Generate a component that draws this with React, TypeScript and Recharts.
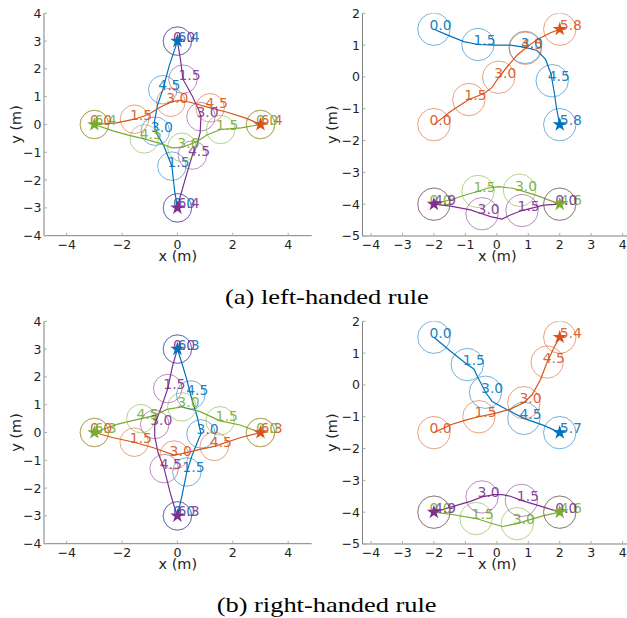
import React from 'react';
import { ScatterChart, Scatter, XAxis, YAxis, ZAxis } from 'recharts';

/* ============================
   Colours / constants
============================ */

const BLUE = '#0072BD';
const ORANGE = '#D95319';
const GREEN = '#77AC30';
const PURPLE = '#7E2F8E';

const ROBOT_RADIUS = 0.515; // m, drawn as the circles
const CAPTIONS = ['(a) left-handed rule', '(b) right-handed rule'];

type Pt = { x: number; y: number };
type Mark = { x: number; y: number; t: string; end?: boolean };

/* ============================
   (a) left-handed, cross
============================ */

const aBluePath: Pt[] = [
    { x: 0, y: -3 }, { x: -0.1, y: -2.4 }, { x: -0.2, y: -1.5 }, { x: -0.5, y: -0.75 },
    { x: -0.8, y: -0.24 }, { x: -0.83, y: 0.1 }, { x: -0.72, y: 0.7 }, { x: -0.53, y: 1.25 },
    { x: -0.3, y: 2.1 }, { x: 0, y: 3 },
];
const aBlueMarks: Mark[] = [
    { x: 0, y: -3, t: '0.0' }, { x: -0.2, y: -1.5, t: '1.5' }, { x: -0.8, y: -0.24, t: '3.0' },
    { x: -0.53, y: 1.25, t: '4.5' }, { x: 0, y: 3, t: '6.4', end: true },
];
const aPurplePath: Pt[] = [
    { x: 0, y: 3 }, { x: 0.1, y: 2.4 }, { x: 0.2, y: 1.63 }, { x: 0.55, y: 1.0 },
    { x: 0.78, y: 0.5 }, { x: 0.85, y: 0.28 }, { x: 0.82, y: -0.3 }, { x: 0.7, y: -0.75 },
    { x: 0.54, y: -1.1 }, { x: 0.3, y: -1.9 }, { x: 0.1, y: -2.6 }, { x: 0, y: -3 },
];
const aPurpleMarks: Mark[] = [
    { x: 0, y: 3, t: '0.0' }, { x: 0.2, y: 1.63, t: '1.5' }, { x: 0.85, y: 0.28, t: '3.0' },
    { x: 0.54, y: -1.1, t: '4.5' }, { x: 0, y: -3, t: '6.4', end: true },
];
const aOrangePath: Pt[] = [
    { x: -3, y: 0 }, { x: -2.2, y: 0.06 }, { x: -1.55, y: 0.19 }, { x: -1.05, y: 0.36 },
    { x: -0.63, y: 0.62 }, { x: -0.24, y: 0.8 }, { x: 0.05, y: 0.87 }, { x: 0.46, y: 0.8 },
    { x: 1.18, y: 0.6 }, { x: 1.8, y: 0.44 }, { x: 2.5, y: 0.22 }, { x: 3, y: 0 },
];
const aOrangeMarks: Mark[] = [
    { x: -3, y: 0, t: '0.0' }, { x: -1.55, y: 0.19, t: '1.5' }, { x: -0.24, y: 0.8, t: '3.0' },
    { x: 1.18, y: 0.6, t: '4.5' }, { x: 3, y: 0, t: '6.4', end: true },
];
const aGreenPath: Pt[] = [
    { x: 3, y: 0 }, { x: 2.3, y: -0.12 }, { x: 1.56, y: -0.18 }, { x: 1.06, y: -0.38 },
    { x: 0.7, y: -0.62 }, { x: 0.16, y: -0.82 }, { x: -0.2, y: -0.84 }, { x: -0.63, y: -0.68 },
    { x: -1.2, y: -0.52 }, { x: -1.7, y: -0.4 }, { x: -2.3, y: -0.24 }, { x: -3, y: 0 },
];
const aGreenMarks: Mark[] = [
    { x: 3, y: 0, t: '0.0' }, { x: 1.56, y: -0.18, t: '1.5' }, { x: 0.16, y: -0.82, t: '3.0' },
    { x: -1.2, y: -0.52, t: '4.5' }, { x: -3, y: 0, t: '6.4', end: true },
];

/* ============================
   (a) left-handed, swap
============================ */

const bBluePath: Pt[] = [
    { x: -2, y: 1.5 }, { x: -1.6, y: 1.33 }, { x: -1.05, y: 1.11 }, { x: -0.6, y: 1.02 },
    { x: -0.1, y: 1.0 }, { x: 0.43, y: 1.0 }, { x: 0.9, y: 0.93 }, { x: 1.28, y: 0.83 },
    { x: 1.55, y: 0.55 }, { x: 1.72, y: 0.1 }, { x: 1.76, y: -0.12 }, { x: 1.82, y: -0.45 },
    { x: 1.9, y: -1.0 }, { x: 2, y: -1.5 },
];
const bBlueMarks: Mark[] = [
    { x: -2, y: 1.5, t: '0.0' }, { x: -0.6, y: 1.02, t: '1.5' }, { x: 0.9, y: 0.93, t: '3.0' },
    { x: 1.76, y: -0.12, t: '4.5' }, { x: 2, y: -1.5, t: '5.8', end: true },
];
const bOrangePath: Pt[] = [
    { x: -2, y: -1.5 }, { x: -1.47, y: -1.09 }, { x: -0.89, y: -0.71 }, { x: -0.41, y: -0.52 },
    { x: -0.15, y: -0.33 }, { x: 0.06, y: -0.01 }, { x: 0.33, y: 0.32 }, { x: 0.65, y: 0.69 },
    { x: 0.91, y: 0.9 }, { x: 1.28, y: 1.18 }, { x: 1.71, y: 1.39 }, { x: 2, y: 1.5 },
];
const bOrangeMarks: Mark[] = [
    { x: -2, y: -1.5, t: '0.0' }, { x: -0.89, y: -0.71, t: '1.5' }, { x: 0.06, y: -0.01, t: '3.0' },
    { x: 0.91, y: 0.9, t: '4.5' }, { x: 2, y: 1.5, t: '5.8', end: true },
];
const bGreenPath: Pt[] = [
    { x: -2, y: -4 }, { x: -1.47, y: -3.86 }, { x: -0.9, y: -3.68 }, { x: -0.6, y: -3.6 },
    { x: -0.31, y: -3.5 }, { x: 0.06, y: -3.45 }, { x: 0.5, y: -3.5 }, { x: 0.72, y: -3.56 },
    { x: 1.28, y: -3.73 }, { x: 2, y: -4 },
];
const bGreenMarks: Mark[] = [
    { x: -2, y: -4, t: '0.0' }, { x: -0.6, y: -3.6, t: '1.5' }, { x: 0.72, y: -3.56, t: '3.0' },
    { x: 2, y: -4, t: '4.6', end: true },
];
const bPurplePath: Pt[] = [
    { x: 2, y: -4 }, { x: 1.49, y: -4.03 }, { x: 0.8, y: -4.2 }, { x: 0.43, y: -4.34 },
    { x: 0.17, y: -4.47 }, { x: -0.2, y: -4.39 }, { x: -0.47, y: -4.3 }, { x: -0.84, y: -4.18 },
    { x: -1.47, y: -4.06 }, { x: -2, y: -4 },
];
const bPurpleMarks: Mark[] = [
    { x: 2, y: -4, t: '0.0' }, { x: 0.8, y: -4.2, t: '1.5' }, { x: -0.47, y: -4.3, t: '3.0' },
    { x: -2, y: -4, t: '4.9', end: true },
];

/* ============================
   (b) right-handed, cross
============================ */

const cBluePath: Pt[] = [
    { x: 0, y: -3 }, { x: 0.16, y: -2.29 }, { x: 0.34, y: -1.42 }, { x: 0.52, y: -0.85 },
    { x: 0.76, y: -0.25 }, { x: 0.85, y: -0.05 }, { x: 0.72, y: 0.55 }, { x: 0.48, y: 1.35 },
    { x: 0.34, y: 1.9 }, { x: 0.16, y: 2.5 }, { x: 0, y: 3 },
];
const cBlueMarks: Mark[] = [
    { x: 0, y: -3, t: '0.0' }, { x: 0.34, y: -1.42, t: '1.5' }, { x: 0.85, y: -0.05, t: '3.0' },
    { x: 0.48, y: 1.35, t: '4.5' }, { x: 0, y: 3, t: '6.3', end: true },
];
const cPurplePath: Pt[] = [
    { x: 0, y: 3 }, { x: -0.18, y: 2.38 }, { x: -0.35, y: 1.58 }, { x: -0.55, y: 1.0 },
    { x: -0.82, y: 0.29 }, { x: -0.82, y: -0.13 }, { x: -0.7, y: -0.73 }, { x: -0.48, y: -1.3 },
    { x: -0.26, y: -2.17 }, { x: -0.08, y: -2.77 }, { x: 0, y: -3 },
];
const cPurpleMarks: Mark[] = [
    { x: 0, y: 3, t: '0.0' }, { x: -0.35, y: 1.58, t: '1.5' }, { x: -0.82, y: 0.29, t: '3.0' },
    { x: -0.48, y: -1.3, t: '4.5' }, { x: 0, y: -3, t: '6.3', end: true },
];
const cGreenPath: Pt[] = [
    { x: 3, y: 0 }, { x: 2.26, y: 0.27 }, { x: 1.54, y: 0.42 }, { x: 0.82, y: 0.75 },
    { x: 0.16, y: 0.92 }, { x: -0.38, y: 0.83 }, { x: -0.87, y: 0.6 }, { x: -1.32, y: 0.5 },
    { x: -2.19, y: 0.29 }, { x: -3, y: 0 },
];
const cGreenMarks: Mark[] = [
    { x: 3, y: 0, t: '0.0' }, { x: 1.54, y: 0.42, t: '1.5' }, { x: 0.16, y: 0.92, t: '3.0' },
    { x: -1.32, y: 0.5, t: '4.5' }, { x: -3, y: 0, t: '6.3', end: true },
];
const cOrangePath: Pt[] = [
    { x: -3, y: 0 }, { x: -2.31, y: -0.19 }, { x: -1.56, y: -0.35 }, { x: -0.87, y: -0.55 },
    { x: -0.12, y: -0.81 }, { x: 0.16, y: -0.76 }, { x: 0.82, y: -0.61 }, { x: 1.33, y: -0.5 },
    { x: 2.26, y: -0.19 }, { x: 3, y: 0 },
];
const cOrangeMarks: Mark[] = [
    { x: -3, y: 0, t: '0.0' }, { x: -1.56, y: -0.35, t: '1.5' }, { x: -0.12, y: -0.81, t: '3.0' },
    { x: 1.33, y: -0.5, t: '4.5' }, { x: 3, y: 0, t: '6.3', end: true },
];

/* ============================
   (b) right-handed, swap
============================ */

const dBluePath: Pt[] = [
    { x: -2, y: 1.5 }, { x: -1.47, y: 1.06 }, { x: -0.94, y: 0.64 }, { x: -0.73, y: 0.5 },
    { x: -0.62, y: 0.27 }, { x: -0.36, y: -0.23 }, { x: -0.15, y: -0.52 }, { x: 0.33, y: -0.78 },
    { x: 0.86, y: -1.05 }, { x: 1.49, y: -1.27 }, { x: 2, y: -1.5 },
];
const dBlueMarks: Mark[] = [
    { x: -2, y: 1.5, t: '0.0' }, { x: -0.94, y: 0.64, t: '1.5' }, { x: -0.36, y: -0.23, t: '3.0' },
    { x: 0.86, y: -1.05, t: '4.5' }, { x: 2, y: -1.5, t: '5.7', end: true },
];
const dOrangePath: Pt[] = [
    { x: -2, y: -1.5 }, { x: -1.47, y: -1.25 }, { x: -0.94, y: -1.09 }, { x: -0.57, y: -1.0 },
    { x: 0.01, y: -0.88 }, { x: 0.43, y: -0.76 }, { x: 0.86, y: -0.56 }, { x: 1.12, y: -0.31 },
    { x: 1.39, y: 0.17 }, { x: 1.6, y: 0.72 }, { x: 1.81, y: 1.16 }, { x: 2, y: 1.5 },
];
const dOrangeMarks: Mark[] = [
    { x: -2, y: -1.5, t: '0.0' }, { x: -0.57, y: -1.0, t: '1.5' }, { x: 0.86, y: -0.56, t: '3.0' },
    { x: 1.6, y: 0.72, t: '4.5' }, { x: 2, y: 1.5, t: '5.4', end: true },
];
const dPurplePath: Pt[] = [
    { x: 2, y: -4 }, { x: 1.49, y: -3.84 }, { x: 0.78, y: -3.63 }, { x: 0.43, y: -3.5 },
    { x: 0.17, y: -3.45 }, { x: -0.1, y: -3.45 }, { x: -0.47, y: -3.52 }, { x: -0.84, y: -3.66 },
    { x: -1.47, y: -3.84 }, { x: -2, y: -4 },
];
const dPurpleMarks: Mark[] = [
    { x: 2, y: -4, t: '0.0' }, { x: 0.78, y: -3.63, t: '1.5' }, { x: -0.47, y: -3.52, t: '3.0' },
    { x: -2, y: -4, t: '4.9', end: true },
];
const dGreenPath: Pt[] = [
    { x: -2, y: -4 }, { x: -1.37, y: -4.08 }, { x: -0.66, y: -4.2 }, { x: -0.2, y: -4.34 },
    { x: 0.17, y: -4.45 }, { x: 0.65, y: -4.36 }, { x: 1.0, y: -4.25 }, { x: 1.49, y: -4.11 },
    { x: 2, y: -4 },
];
const dGreenMarks: Mark[] = [
    { x: -2, y: -4, t: '0.0' }, { x: -0.66, y: -4.2, t: '1.5' }, { x: 0.65, y: -4.36, t: '3.0' },
    { x: 2, y: -4, t: '4.6', end: true },
];

/* ============================
   Goals (stars) and ticks
============================ */

const crossGoals: Pt[] = [{ x: 0, y: 3 }, { x: 0, y: -3 }, { x: 3, y: 0 }, { x: -3, y: 0 }]; // blue, purple, orange, green
const swapGoals: Pt[] = [{ x: 2, y: -1.5 }, { x: 2, y: 1.5 }, { x: 2, y: -4 }, { x: -2, y: -4 }]; // blue, orange, green, purple

const crossXTicks = [-4, -2, 0, 2, 4];
const crossYTicks = [-4, -3, -2, -1, 0, 1, 2, 3, 4];
const swapXTicks = [-4, -3, -2, -1, 0, 1, 2, 3, 4];
const swapYTicks = [-5, -4, -3, -2, -1, 0, 1, 2];

/* ============================
   Panel
============================ */

type Agent = { color: string; path: Pt[]; marks: Mark[]; goal: Pt };
type Frame = {
    left: number; top: number; yAxisW: number; plotW: number; plotH: number;
    xDomain: [number, number]; yDomain: [number, number];
    xTicks: number[]; yTicks: number[]; yLabelOffset: number;
};

const PLOT_TOP = 13.3;
const X_AXIS_H = 40;
const TICK_STYLE = { fontSize: 12.5, fill: '#222', fontFamily: '"DejaVu Sans", sans-serif' };
const LABEL_STYLE = { fontSize: 14.5, fill: '#222', fontFamily: '"DejaVu Sans", sans-serif' };

const fmt = (v: number) => (v < 0 ? `\u2212${Math.abs(v)}` : `${v}`);
const noDot = () => <g />;

const markShape = (color: string, r: number) => (props: any) => {
    const { cx, cy, payload } = props;
    return (
        <g>
            <circle cx={cx} cy={cy} r={r} fill="none" stroke={color} strokeOpacity={0.55} strokeWidth={1} />
            <text
                x={payload.end ? cx : cx - 4.5}
                y={cy + 0.5}
                fill={color}
                fillOpacity={0.9}
                fontSize={14}
                fontFamily='"DejaVu Sans", sans-serif'
            >
                {payload.t}
            </text>
        </g>
    );
};

const Panel: React.FC<{ frame: Frame; agents: Agent[] }> = ({ frame, agents }) => {
    const { left, top, yAxisW, plotW, plotH, xDomain, yDomain } = frame;
    const rPx = (ROBOT_RADIUS * plotW) / (xDomain[1] - xDomain[0]);

    return (
        <div style={{ position: 'absolute', left, top }}>
            <ScatterChart
                width={yAxisW + plotW}
                height={PLOT_TOP + plotH + X_AXIS_H}
                margin={{ top: PLOT_TOP, right: 0, bottom: 0, left: 0 }}
            >
                <XAxis
                    type="number"
                    dataKey="x"
                    domain={xDomain}
                    ticks={frame.xTicks}
                    interval={0}
                    allowDataOverflow
                    height={X_AXIS_H}
                    tickFormatter={fmt}
                    tick={TICK_STYLE}
                    tickSize={-3}
                    tickMargin={7.5}
                    axisLine={{ stroke: '#808080' }}
                    tickLine={{ stroke: '#aaa' }}
                    label={{ value: 'x (m)', position: 'insideBottom', offset: 14.5, style: LABEL_STYLE }}
                />
                <YAxis
                    type="number"
                    dataKey="y"
                    domain={yDomain}
                    ticks={frame.yTicks}
                    interval={0}
                    allowDataOverflow
                    width={yAxisW}
                    tickFormatter={fmt}
                    tick={TICK_STYLE}
                    tickSize={-3}
                    tickMargin={5.5}
                    axisLine={{ stroke: '#808080' }}
                    tickLine={{ stroke: '#aaa' }}
                    label={{
                        value: 'y (m)',
                        angle: -90,
                        position: 'insideLeft',
                        offset: frame.yLabelOffset,
                        style: { ...LABEL_STYLE, textAnchor: 'middle' },
                    }}
                />
                <ZAxis range={[34, 34]} />

                {agents.map((a, i) => (
                    <Scatter
                        key={`path-${i}`}
                        data={a.path}
                        line={{ stroke: a.color, strokeWidth: 1.2 }}
                        shape={noDot}
                        isAnimationActive={false}
                    />
                ))}
                {agents.map((a, i) => (
                    <Scatter
                        key={`marks-${i}`}
                        data={a.marks}
                        shape={markShape(a.color, rPx)}
                        isAnimationActive={false}
                    />
                ))}
                {agents.map((a, i) => (
                    <Scatter
                        key={`goal-${i}`}
                        data={[a.goal]}
                        shape="star"
                        fill={a.color}
                        isAnimationActive={false}
                    />
                ))}
            </ScatterChart>
        </div>
    );
};

/* ============================
   Layout
============================ */

const crossFrame = (top: number): Frame => ({
    left: 0, top, yAxisW: 44, plotW: 267.7, plotH: 222.4,
    xDomain: [-4.82, 4.85], yDomain: [-4, 4],
    xTicks: crossXTicks, yTicks: crossYTicks, yLabelOffset: 16,
});

const swapFrame = (top: number): Frame => ({
    left: 310, top, yAxisW: 52.5, plotW: 269.6, plotH: 222.7,
    xDomain: [-4.27, 4.3], yDomain: [-5, 2],
    xTicks: swapXTicks, yTicks: swapYTicks, yLabelOffset: 22,
});

const agentsOf = (
    colors: string[], paths: Pt[][], marks: Mark[][], goals: Pt[]
): Agent[] => colors.map((c, i) => ({ color: c, path: paths[i], marks: marks[i], goal: goals[i] }));

const App: React.FC = () => {
    const aAgents = agentsOf(
        [BLUE, PURPLE, ORANGE, GREEN],
        [aBluePath, aPurplePath, aOrangePath, aGreenPath],
        [aBlueMarks, aPurpleMarks, aOrangeMarks, aGreenMarks],
        crossGoals
    );
    const bAgents = agentsOf(
        [BLUE, ORANGE, GREEN, PURPLE],
        [bBluePath, bOrangePath, bGreenPath, bPurplePath],
        [bBlueMarks, bOrangeMarks, bGreenMarks, bPurpleMarks],
        swapGoals
    );
    const cAgents = agentsOf(
        [BLUE, PURPLE, ORANGE, GREEN],
        [cBluePath, cPurplePath, cOrangePath, cGreenPath],
        [cBlueMarks, cPurpleMarks, cOrangeMarks, cGreenMarks],
        crossGoals
    );
    const dAgents = agentsOf(
        [BLUE, ORANGE, GREEN, PURPLE],
        [dBluePath, dOrangePath, dGreenPath, dPurplePath],
        [dBlueMarks, dOrangeMarks, dGreenMarks, dPurpleMarks],
        swapGoals
    );

    const captionStyle: React.CSSProperties = {
        position: 'absolute',
        left: 0,
        width: 654,
        textAlign: 'center',
        fontFamily: '"Liberation Serif", "Times New Roman", serif',
        fontSize: 22,
        lineHeight: '22px',
        color: '#000',
    };

    return (
        <div style={{ position: 'relative', width: 627, height: 618, overflow: 'hidden', background: '#fff' }}>
            <style>{'body{margin:0}'}</style>
            <Panel frame={crossFrame(0)} agents={aAgents} />
            <Panel frame={swapFrame(0)} agents={bAgents} />
            <Panel frame={crossFrame(308.4)} agents={cAgents} />
            <Panel frame={swapFrame(308.4)} agents={dAgents} />
            <div style={{ ...captionStyle, top: 285.6 }}>
                <span style={{ display: 'inline-block', transform: 'scaleX(1.2)' }}>{CAPTIONS[0]}</span>
            </div>
            <div style={{ ...captionStyle, top: 594 }}>
                <span style={{ display: 'inline-block', transform: 'scaleX(1.2)' }}>{CAPTIONS[1]}</span>
            </div>
        </div>
    );
};

export default App;
